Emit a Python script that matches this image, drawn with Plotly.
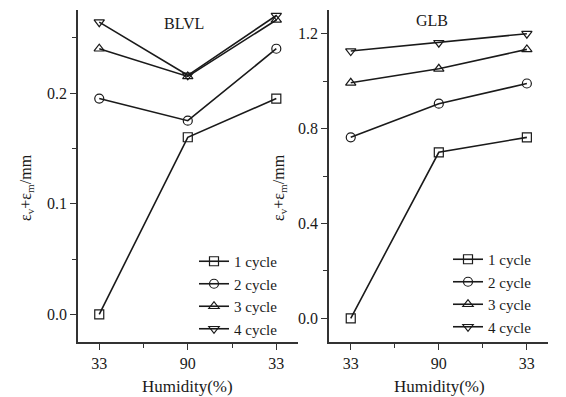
import plotly.graph_objects as go

humidity_labels = ["33", "90", "33"]
cycle_names = ["1 cycle", "2 cycle", "3 cycle", "4 cycle"]
symbols = ["square-open", "circle-open", "triangle-up-open", "triangle-down-open"]

blvl_1 = [0.000, 0.160, 0.195]
blvl_2 = [0.195, 0.175, 0.240]
blvl_3 = [0.240, 0.215, 0.266]
blvl_4 = [0.264, 0.216, 0.270]

glb_1 = [0.000, 0.700, 0.763]
glb_2 = [0.763, 0.905, 0.990]
glb_3 = [0.993, 1.052, 1.134]
glb_4 = [1.127, 1.162, 1.200]

W, H = 566, 397
FONT = "Liberation Serif, Times New Roman, serif"
INK = "#1a1a1a"

def px_x(p):
    return p / W

def px_y(p):
    return 1 - p / H

xpos = list(range(len(humidity_labels)))

fig = go.Figure()
for series, name, sym in zip([blvl_1, blvl_2, blvl_3, blvl_4], cycle_names, symbols):
    fig.add_trace(go.Scatter(x=xpos, y=series, name=name, mode="lines+markers",
                             line=dict(color=INK, width=1.6),
                             marker=dict(symbol=sym, size=9, color=INK, line=dict(width=1.2, color=INK)),
                             xaxis="x", yaxis="y", legend="legend"))
for series, name, sym in zip([glb_1, glb_2, glb_3, glb_4], cycle_names, symbols):
    fig.add_trace(go.Scatter(x=xpos, y=series, name=name, mode="lines+markers",
                             line=dict(color=INK, width=1.6),
                             marker=dict(symbol=sym, size=9, color=INK, line=dict(width=1.2, color=INK)),
                             xaxis="x2", yaxis="y2", legend="legend2"))

axis_common = dict(showgrid=False, zeroline=False, showline=True, linecolor="#333", linewidth=1.5,
                   ticks="outside", ticklen=6, tickwidth=1.2, tickcolor="#333",
                   tickfont=dict(family=FONT, size=16, color=INK))

ydom = [px_y(342), px_y(10)]
fig.update_layout(
    width=W, height=H, margin=dict(l=0, r=0, t=0, b=0),
    paper_bgcolor="white", plot_bgcolor="white", font=dict(family=FONT, color=INK),
    xaxis=dict(domain=[px_x(78), px_x(298)], range=[-0.24, 2.245], tickvals=xpos, ticktext=humidity_labels,
               minor=dict(tickvals=[0.5, 1.5], ticks="outside", ticklen=4, tickcolor="#333"), anchor="y", **axis_common),
    yaxis=dict(domain=ydom, range=[-0.025, 0.275], tickvals=[0.0, 0.1, 0.2], ticktext=["0.0", "0.1", "0.2"],
               minor=dict(tickvals=[0.05, 0.15, 0.25], ticks="outside", ticklen=4, tickcolor="#333"), anchor="x", **axis_common),
    xaxis2=dict(domain=[px_x(329), px_x(548)], range=[-0.247, 2.24], tickvals=xpos, ticktext=humidity_labels,
                minor=dict(tickvals=[0.5, 1.5], ticks="outside", ticklen=4, tickcolor="#333"), anchor="y2", **axis_common),
    yaxis2=dict(domain=ydom, range=[-0.1, 1.3], tickvals=[0.0, 0.4, 0.8, 1.2], ticktext=["0.0", "0.4", "0.8", "1.2"],
                minor=dict(tickvals=[0.2, 0.6, 1.0], ticks="outside", ticklen=4, tickcolor="#333"), anchor="x2", **axis_common),
    legend=dict(x=px_x(194), y=px_y(245), xanchor="left", yanchor="top", bgcolor="rgba(0,0,0,0)",
                font=dict(family=FONT, size=15, color=INK), tracegroupgap=0, itemclick=False),
    legend2=dict(x=px_x(448), y=px_y(243), xanchor="left", yanchor="top", bgcolor="rgba(0,0,0,0)",
                 font=dict(family=FONT, size=15, color=INK), tracegroupgap=0, itemclick=False),
    showlegend=True,
)

def label(text, x, y, size=16, angle=0):
    fig.add_annotation(text=text, x=px_x(x), y=px_y(y), xref="paper", yref="paper", textangle=angle,
                       xanchor="center", yanchor="middle", showarrow=False,
                       font=dict(family=FONT, size=size, color=INK))

ytitle = "ε<sub>v</sub>+ε<sub>m</sub>/mm"
label(ytitle, 27, 188, angle=-90)
label(ytitle, 280, 188, angle=-90)
label("Humidity(%)", 188, 386, size=17)
label("Humidity(%)", 439, 386, size=17)
label("BLVL", 184, 23)
label("GLB", 432, 20)

fig.write_html("out.html", config={"displayModeBar": False},
               post_script="document.body.style.margin='0';")
